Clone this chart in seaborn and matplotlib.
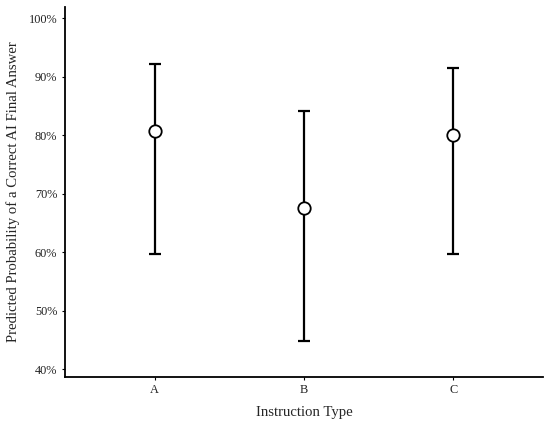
import matplotlib
matplotlib.use("Agg")
import matplotlib.pyplot as plt
import seaborn as sns
import pandas as pd
import numpy as np
from matplotlib.ticker import FuncFormatter

categories = ["A", "B", "C"]
estimate = [80.7, 67.5, 80.0]
lower = [59.6, 44.8, 59.6]
upper = [92.2, 84.1, 91.5]
yticks = [40, 50, 60, 70, 80, 90, 100]

sns.set_theme(style="ticks")
plt.rcParams["font.family"] = ["Liberation Serif", "DejaVu Serif"]

df = pd.DataFrame({"type": categories, "est": estimate, "lo": lower, "hi": upper})

fig = plt.figure(figsize=(5.5, 4.25), dpi=100)
ax = fig.add_axes([0.118, 0.1137, 0.869, 0.87])

xpos = np.arange(len(categories))
ax.errorbar(xpos, df["est"], yerr=[df["est"] - df["lo"], df["hi"] - df["est"]],
            fmt="none", ecolor="black", elinewidth=1.6, capsize=4.2, capthick=1.6, zorder=2)
sns.scatterplot(data=df, x="type", y="est", ax=ax, s=80, color="white",
                edgecolor="black", linewidth=1.3, zorder=3, legend=False)

ax.set_xlim(-0.6, 2.6)
ax.set_ylim(38.7, 101.9)
ax.set_yticks(yticks)
ax.yaxis.set_major_formatter(FuncFormatter(lambda v, p: f"{v:.0f}%"))
ax.set_xlabel("Instruction Type", fontsize=10.6, labelpad=7)
ax.set_ylabel("Predicted Probability of a Correct AI Final Answer", fontsize=10.6, labelpad=6)
ax.tick_params(axis="both", labelsize=8.8, length=2.5, width=0.8, color="black", labelcolor="#222222", pad=3)
for s in ["top", "right"]:
    ax.spines[s].set_visible(False)
for s in ["left", "bottom"]:
    ax.spines[s].set_linewidth(1.3)
    ax.spines[s].set_color("black")

fig.savefig("out.png", dpi=100)
